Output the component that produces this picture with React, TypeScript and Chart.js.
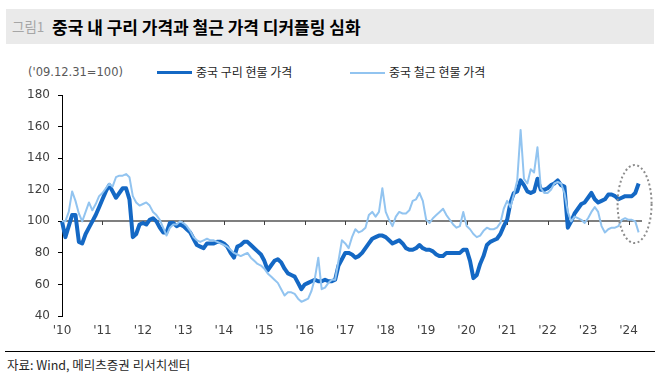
import React, { useEffect, useRef } from "react";
import { Chart, registerables } from "chart.js";

Chart.register(...registerables);

// x-axis year tick labels ('10 … '24), one per January
const yearLabels = ["'10", "'11", "'12", "'13", "'14", "'15", "'16", "'17", "'18", "'19", "'20", "'21", "'22", "'23", "'24"];

// China copper spot price index ('09.12.31 = 100), monthly from Jan 2010
const copper = [
  100, 90, 97, 104, 104, 87, 86, 92, 96, 100, 104, 109,
  114, 119, 123, 119, 115, 118, 121, 121, 114, 90, 92, 98,
  99, 98, 101, 102, 100, 96, 93, 93, 99, 99, 97, 98,
  97, 95, 93, 89, 85, 84, 83, 86, 86, 86, 87, 87,
  86, 84, 80, 77, 84, 85, 87, 87, 85, 83, 81, 79,
  75, 69, 72, 75, 76, 74, 70, 67, 66, 65, 61, 57,
  60, 61, 62, 63, 62, 62, 63, 62, 62, 63, 72, 76,
  80, 80, 79, 77, 78, 80, 83, 86, 89, 90, 91, 91,
  90, 88, 86, 87, 88, 86, 83, 82, 82, 83, 85, 83,
  82, 82, 81, 79, 78, 78, 80, 80, 80, 80, 80, 82,
  82, 75, 64, 66, 73, 78, 85, 87, 88, 89, 92, 97,
  101, 112, 118, 119, 126, 123, 119, 118, 119, 127, 120, 120,
  121, 123, 124, 126, 123, 122, 96, 100, 105, 108, 111, 112,
  115, 118, 114, 112, 113, 114, 117, 117, 116, 114, 115, 116,
  116, 116, 118, 124,
];

// China rebar spot price index ('09.12.31 = 100), monthly from Jan 2010
const steel = [
  100, 100, 106, 119, 113, 105, 100, 106, 112, 107, 111, 116,
  118, 121, 124, 122, 128, 129, 129, 130, 128, 116, 112, 110,
  111, 112, 110, 106, 104, 101, 96, 91, 96, 98, 98, 100,
  99, 97, 94, 90, 88, 87, 88, 89, 88, 88, 87, 86,
  85, 84, 82, 80, 79, 78, 79, 80, 77, 75, 73, 72,
  70, 67, 65, 63, 61, 57, 53, 55, 55, 54, 51, 49,
  50, 51, 56, 64, 77, 57, 58, 61, 63, 63, 75, 88,
  86, 83, 90, 95, 93, 94, 96, 104, 106, 103, 106, 121,
  106, 101, 97, 103, 106, 105, 105, 107, 113, 114, 118, 113,
  101, 99, 102, 104, 106, 108, 104, 101, 98, 96, 97, 106,
  97, 95, 92, 90, 91, 94, 96, 95, 95, 96, 99, 108,
  113, 109, 117, 126, 158, 127, 124, 133, 131, 147, 121, 118,
  118, 120, 124, 125, 124, 118, 106, 100, 103, 102, 101, 99,
  102, 106, 109, 106, 97, 93, 95, 96, 96, 97, 101, 102,
  101, 101, 100, 93,
];

const AXIS_MONTHS = 173; // Jan 2010 … May 2024 (axis extends slightly past the data)
const months: string[] = [];
for (let i = 0; i < AXIS_MONTHS; i++) {
  const yy = 2010 + Math.floor(i / 12);
  const mm = (i % 12) + 1;
  months.push(`${yy}-${mm < 10 ? "0" + mm : mm}`);
}

const COPPER_COLOR = "#1468C4";
const STEEL_COLOR = "#92C4F0";
const NUM_FONT = "'DejaVu Sans', sans-serif";
const KR_FONT = "'Noto Sans CJK KR', 'Noto Sans', sans-serif";

const decorPlugin = {
  id: "decor",
  beforeDatasetsDraw(chart: any) {
    const { ctx, chartArea, scales } = chart;
    const x = scales.x;
    const y = scales.y;
    const py = Math.round(y.getPixelForValue(100));
    ctx.save();
    ctx.strokeStyle = "#7F7F7F";
    ctx.lineWidth = 2;
    ctx.beginPath();
    ctx.moveTo(chartArea.left, py);
    ctx.lineTo(chartArea.right, py);
    ctx.stroke();
    ctx.strokeStyle = "#404040";
    ctx.lineWidth = 1;
    for (let k = 1; k < yearLabels.length; k++) {
      const px = Math.round(x.getPixelForValue(k * 12)) + 0.5;
      ctx.beginPath();
      ctx.moveTo(px, py);
      ctx.lineTo(px, py + 4);
      ctx.stroke();
    }
    ctx.restore();
  },
  afterDatasetsDraw(chart: any) {
    const { ctx, scales } = chart;
    const cx = scales.x.getPixelForValue(169.8);
    const cy = scales.y.getPixelForValue(111);
    ctx.save();
    ctx.strokeStyle = "#8C8C8C";
    ctx.lineWidth = 2;
    ctx.setLineDash([2, 2.5]);
    ctx.beginPath();
    ctx.ellipse(cx, cy, 17, 39, 0, 0, Math.PI * 2);
    ctx.stroke();
    ctx.restore();
  },
};

function ChartCanvas() {
  const ref = useRef<HTMLCanvasElement | null>(null);
  useEffect(() => {
    if (!ref.current) return;
    const chart = new Chart(ref.current, {
      type: "line",
      data: {
        labels: months,
        datasets: [
          {
            label: "중국 구리 현물 가격",
            data: copper,
            borderColor: COPPER_COLOR,
            borderWidth: 4,
            pointRadius: 0,
            tension: 0,
            borderJoinStyle: "round",
            order: 2,
          },
          {
            label: "중국 철근 현물 가격",
            data: steel,
            borderColor: STEEL_COLOR,
            borderWidth: 2,
            pointRadius: 0,
            tension: 0,
            borderJoinStyle: "round",
            order: 1,
          },
        ],
      },
      options: {
        animation: false,
        responsive: false,
        maintainAspectRatio: false,
        layout: { padding: { left: 0, right: 18, top: 13, bottom: 0 } },
        plugins: {
          legend: { display: false },
          tooltip: { enabled: false },
        },
        scales: {
          x: {
            type: "category",
            offset: false,
            grid: { display: false, drawTicks: false },
            border: { display: false },
            ticks: {
              autoSkip: false,
              maxRotation: 0,
              minRotation: 0,
              padding: 8,
              color: "#404040",
              font: { family: NUM_FONT, size: 12 },
              callback: (_v: any, index: number) =>
                index % 12 === 0 && index / 12 < yearLabels.length ? yearLabels[index / 12] : null,
            },
            afterFit: (scale: any) => {
              scale.height = 34;
            },
          },
          y: {
            min: 40,
            max: 180,
            grid: {
              display: true,
              drawOnChartArea: false,
              drawTicks: true,
              tickLength: 4,
              color: "#000000",
            },
            border: { display: true, color: "#000000", width: 1 },
            ticks: {
              stepSize: 20,
              padding: 8,
              color: "#404040",
              font: { family: NUM_FONT, size: 12 },
            },
            afterFit: (scale: any) => {
              scale.width = 62;
            },
          },
        },
      },
      plugins: [decorPlugin],
    } as any);
    return () => chart.destroy();
  }, []);
  return (
    <canvas
      ref={ref}
      width={660}
      height={270}
      style={{ position: "absolute", left: 0, top: 80, width: 660, height: 270 }}
    />
  );
}

export default function App() {
  return (
    <div
      style={{
        position: "fixed",
        left: 0,
        top: 0,
        width: 660,
        height: 382,
        background: "#ffffff",
        overflow: "hidden",
        fontFamily: KR_FONT,
      }}
    >
      <div
        style={{
          position: "absolute",
          left: 6,
          top: 9,
          width: 648,
          height: 35,
          background: "#EAEAEA",
        }}
      >
        <span
          style={{
            position: "absolute",
            left: 6,
            top: 0,
            lineHeight: "35px",
            fontSize: 13.5,
            color: "#A6A6A6",
            fontFamily: KR_FONT,
          }}
        >
          그림1
        </span>
        <span
          style={{
            position: "absolute",
            left: 46,
            top: 0,
            lineHeight: "35px",
            fontSize: 17,
            fontWeight: 700,
            color: "#000000",
            fontFamily: KR_FONT,
            whiteSpace: "nowrap",
          }}
        >
          중국 내 구리 가격과 철근 가격 디커플링 심화
        </span>
      </div>

      <div
        style={{
          position: "absolute",
          left: 28,
          top: 63,
          lineHeight: "18px",
          fontSize: 11.5,
          color: "#595959",
          fontFamily: NUM_FONT,
          whiteSpace: "nowrap",
        }}
      >
        ('09.12.31=100)
      </div>

      <div style={{ position: "absolute", left: 157, top: 71, width: 35, height: 3, background: COPPER_COLOR }} />
      <div
        style={{
          position: "absolute",
          left: 196,
          top: 63,
          lineHeight: "18px",
          fontSize: 12,
          color: "#262626",
          whiteSpace: "nowrap",
        }}
      >
        중국 구리 현물 가격
      </div>

      <div style={{ position: "absolute", left: 350, top: 72, width: 35, height: 1.5, background: STEEL_COLOR }} />
      <div
        style={{
          position: "absolute",
          left: 389,
          top: 63,
          lineHeight: "18px",
          fontSize: 12,
          color: "#262626",
          whiteSpace: "nowrap",
        }}
      >
        중국 철근 현물 가격
      </div>

      <ChartCanvas />

      <div style={{ position: "absolute", left: 5, top: 351, width: 650, height: 1, background: "#000000" }} />
      <div
        style={{
          position: "absolute",
          left: 7,
          top: 356,
          lineHeight: "18px",
          fontSize: 12.5,
          color: "#262626",
          whiteSpace: "nowrap",
        }}
      >
        자료: Wind, 메리츠증권 리서치센터
      </div>
    </div>
  );
}
